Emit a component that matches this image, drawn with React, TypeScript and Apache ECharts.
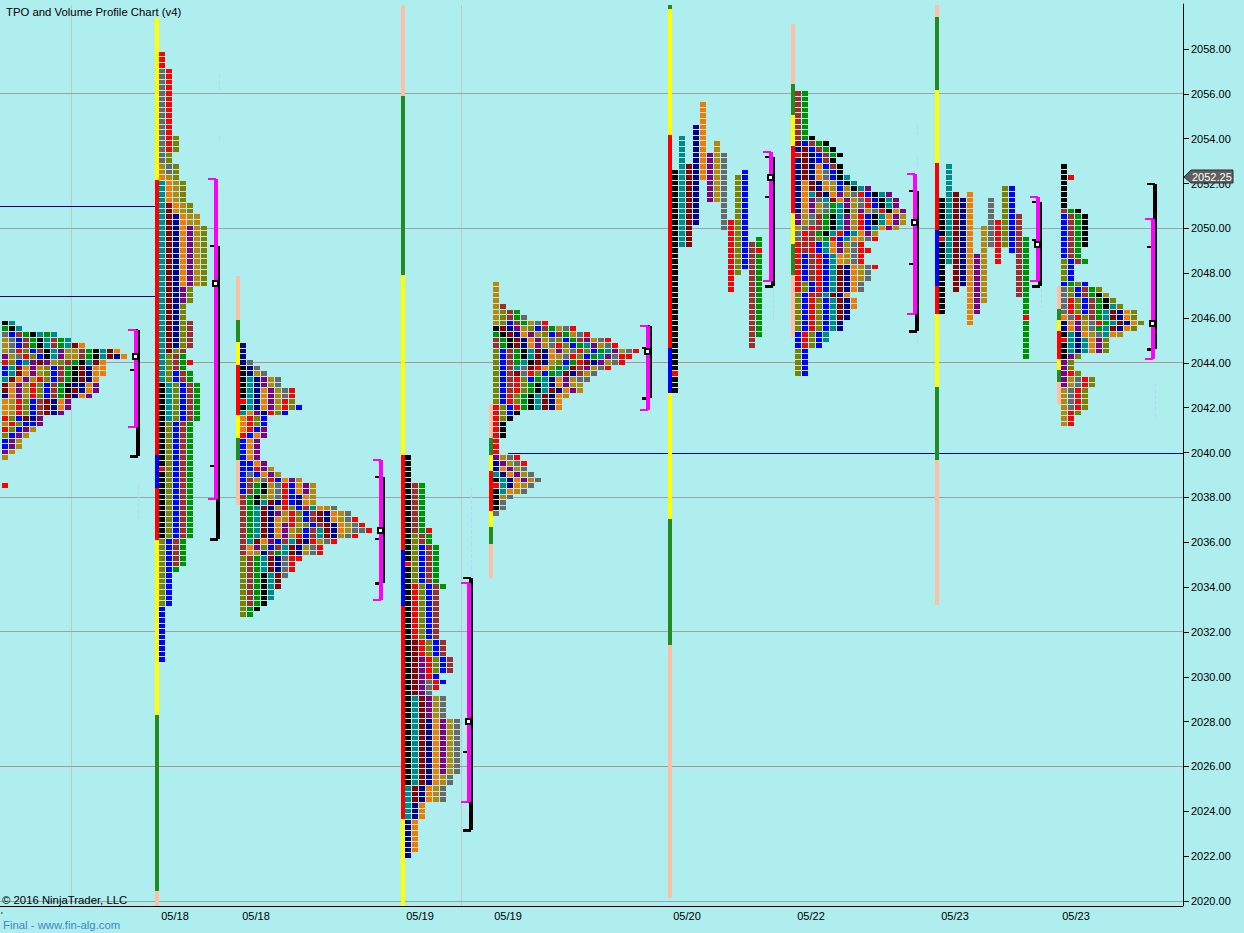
import React, { useEffect, useRef } from "react";
import * as echarts from "echarts";

// ---- axis values
const yTicks = [2020,2022,2024,2026,2028,2030,2032,2034,2036,2038,2040,2042,2044,2046,2048,2050,2052,2054,2056,2058];
const dateValues = [175, 256, 420, 508, 687, 811, 955, 1076];
const dateLabels = ["05/18","05/18","05/19","05/19","05/20","05/22","05/23","05/23"];
const lastPrice = 2052.25;

// ---- horizontal levels [price, from, to]
const gridLevels = [2056, 2050, 2038, 2032, 2020];
const warmLevels = [2044, 2026];
const timeGrid = [71, 461];
const navyLevels = [[2051, 0, 156], [2047, 0, 156], [2040, 508, 1183]];

// ---- range-bar stripes: position, price cuts, colour codes per section
const stripeAt = [155, 236, 401, 489, 668, 791, 935, 1057];
const stripeCuts = [
  [2059.38,2052.16,2039.89,2038.42,2036.10,2028.29,2020.44,2019.78],
  [2047.88,2045.91,2044.93,2043.91,2041.68,2040.65,2039.67,2037.66],
  [2059.96,2055.90,2047.92,2039.89,2035.65,2033.16,2023.66,2019.78],
  [2042.17,2040.65,2039.89,2039.18,2037.39,2036.68,2035.92,2034.41],
  [2059.96,2059.78,2054.16,2044.66,2042.66,2037.04,2031.42,2020.13],
  [2059.12,2056.44,2055.06,2053.67,2050.69,2049.30,2047.92,2045.15],
  [2059.96,2059.43,2056.17,2052.92,2049.93,2047.43,2046.18,2042.92,2039.67,2033.20],
  [2047.43,2046.40,2045.91,2045.42,2044.17,2043.68,2043.15,2042.17],
];
const stripeCodes = ["yrbrygs","sgyrygs","sgyrbry","sgyrygs","gyrbygs","sgyrygs","sgyrbrygs","sgyrygs"];

// ---- value-area brackets: at, magentaTop, magentaBottom, blackTop, blackBottom, poc, midTick
const bracketAt = [134, 214, 379, 467, 646, 769, 913, 1036, 1151];
const magentaTop = [2045.47,2052.20,2039.67,2034.18,2045.64,2053.41,2052.42,2051.40,2050.42];
const magentaBottom = [2041.14,2037.93,2033.42,2024.41,2041.90,2047.65,2046.18,2047.65,2044.17];
const blackTop = [2045.47,2049.21,2038.91,2034.41,2045.64,2053.18,2051.67,2051.18,2051.98];
const blackBottom = [2039.85,2036.14,2034.18,2023.16,2042.43,2047.43,2045.42,2047.43,2044.62];
const pocPrice = [2044.31,2047.56,2036.55,2028.03,2044.53,2052.29,2050.28,2049.30,2045.78];
const midTick = [2043.68,2039.40,2036.14,2026.64,2044.66,2051.40,2048.41,2049.48,2049.17];

// ---- faint marks [at, from, to]
const faintMarks = [[219,2056.88,2056.17],[219,2054.1,2053.8],[138,2038.55,2036.99],[471,2038.42,2034.45],[1155,2043.10,2041.45],[917,2054.6,2054.16],[917,2053.2,2052.6],[917,2045.3,2044.9],[773,2047.4,2045.9],[1041,2047.34,2046.45]];

// ---- TPO profiles, by rows of colour letters
const p1Rows = ["kt","gkt","ybwgktgt","dybwgktwgt","dybwgktwgtmo","dyrlbwktpddwgktmo","pdyrlbktpddwgktmno","rlbtpmpdlwgktmo","btmopdlbwgkmnoo","btmopdlbwgkmnoo","tmopdrlbwgkmno","mopdrlbwgknnop","mopdrlbwgkmnop","nopdrlbwgmnop","odrlbwmnop","odrlbwmnop","odrlbwmnp","rlbmnp","drlbbp","rlbpd","lbpd","bpd","bpd","pd","d","","","","","r"];
const p3Rows = ["n","n","n","ny","kny","kndy","ktnpdy","ktnpdy","ktnopdyr","ktnopdyr","rtnopdrl","ktnopdrlb","topnrlb","orlb","orlb","orbp","rbop","bop","bop","bop","bop","bbop","bbrpd","bybopd","bwdyrbopd","bwgkdyrbopd","bwgkdyrbopd","wgkldyrbnod","wgktmnrbnod","wgtmndrlbwtody","wgtmnpdrlbwmnody","wgtmnodrlbwmnodyr","wgtmnoprdlbwmnodyr","wgtmnopdlbwtmnodyyr","wgtmnopdrbwtmndyr","wtmopbwtmnrdyr","woplbwtmndyr","wodnwgtmndyr","lwgtmnyrr","lwgtmnyr","lwgtmnyr","lwgktmy","lwgktm","lwgktm","lwgkt","lwgkt","lwgk","lgk","lg"];
const p5Rows = ["d","d","d","d","dw","dlwg","dlwgy","dlbwgdyr","kmnpdlbwgdyr","gkmnopdlbwgdyr","wgkmnopdylbgwpdyr","wgkmnopdyrlbgtpdyr","lbwgktmnopdyrlbgtpdyr","lbwgktmnodyrlbgtpyrr","lbwgtkmndlbgrmnpdyr","lbwtymrolgtmwpdyr","lbwmyrlbgtmnwdy","lbwrlbgtnopdyy","lbwrlgktnopdd","lbwrlgktmnopd","lbrlgktmnod","lbrlgktmno","rlbrgktmno","rlbk","rlk","rk","rk","rk","r","r","r","pdyr","npdyr","nopdy","tnopdy","ktnopdy","rtnody","ktody","kdy","ky","ky","y"];
const p7Rows = ["wg","wg","wg","wg","wg","wg","wg","wg","wgk","mbwgk","nmbwgk","rmnbwgk","nmnbwk","nmnobwk","nmnoybk","nmnoybkt","nomnodbkt","nomnodbdktp","notmnopdyrbktp","nopytmopdyrbktp","nopdygtpdyrbktp","nopdygtkdpdyrkop","pdywgktpdrbktopd","pdywgktpdrbktopd","dyrwgktpdrbtopd","yrwgktrbtopd","yrwlgrbtodyr","rwrbtopdyr","rwrbtopdyrr","rbwrbtodyr","rbwrbtodyr","rbwrbtmnodyr","rbwrbtmnody","rbwrbtmnody","rlbrbtmnoy","rlbrbtmnoy","lbrwtmno","lbrlbtmno","lbrlbtmno","lbrlbtmn","lbrlbtmn","lbrlbtn","lbrlbtn","brlbt","brlbt","brlb","lb","lb","lb","lb","lb"];
const p9Rows = ["k","k","kr","k","k","k","k","k","wgk","bwgk","bwgk","bwgk","bwgk","bwgk","bwgk","bwg","bwg","lbwg","lb","lb","lb","bglb","ylbwgl","ylbwgkd","yrlbwgkl","yrlbwgktl","yrlbwgtmnol","oyrlwgtmnol","nopdyrgtmnol","nopdygtmnol","ktnodytod","rtntopl","ktntopl","ktntopl","kpl","pl","pl","prl","pdyrl","pdyrl","dyrl","dyrl","dyrl","dyrl","drl","dr","dr"];

// ---- TPO profiles, by columns of colour runs (letter + first-last row)
const p2Cols = [
  "r0-2 y3-19 d20-21 o22 t23-58 k59-73 r74 k75-86 l87-98 b99-108",
  "r3-17 l18-19 y20-21 d22 o23-26 m27-53 l54-58 t59-65 l66-86 b87-98",
  "l15-17 l20-22 d23-26 o27-28 n29-52 l53 w54-56 b57-58 l59-65 b66-86 w87-91 g92",
  "l23-26 d27-28 o29-41 p42-44 l45-52 w53 g54-56 w57-58 b59-65 w66-86 g87-91",
  "l27-28 d29-30 p31-41 l42-44 w48-52 r55 g57-58 w59-65 g66-86",
  "d29-41 g59-65",
  "l31-41",
];
const p4Cols = [
  "k0-18 r19 k20-58 t59-64 n65-71",
  "w5-13 l14-22 r23-32 m33-42 t43-58 m59-61 n62-64 o65-70",
  "g5-13 w14-15 b16-22 l23-32 r33-35 p36-42 m43-58 n59-61 o62-64",
  "r13 g14-15 w16-22 b23-32 l33-35 r36-39 y40-42 p43-46 n47-58 o59-61",
  "g16-22 w23-32 b33-35 l36-38 b39 r40-41 d43-46 o47-58 d59-61",
  "g23 w33-35 b36-38 b40 y43-46 p47-56 d57-58 y59-61",
  "w36-38 d47-56 y57-58",
  "y47-56",
];
const p6Cols = ["k12-47 r48 k49-51","t6-25","m11-25","n4-21","o0-13","p9-17","d7-17","y9-22","r21-33","l13-30","b12-29","w25-43","g24-25 r26 g27-41"];
const p8Cols = ["k6-12 r13 k14-26","t0-17","m5-22","n6-21","o5-28","p16-26","d11-24","y6-14","r10-17","l4-14","b4-15","w9-23","g13-26 r27 g28-34"];

const rowProfiles: any[] = [
  { at: 2, top: 2045.75, rows: p1Rows },
  { at: 240, top: 2044.75, rows: p3Rows },
  { at: 493, top: 2047.5, rows: p5Rows },
  { at: 795, top: 2056, rows: p7Rows },
  { at: 1061, top: 2052.75, rows: p9Rows },
];
const colProfiles: any[] = [
  { at: 159, top: 2057.75, cols: p2Cols },
  { at: 405, top: 2039.75, cols: p4Cols },
  { at: 672, top: 2055.5, cols: p6Cols },
  { at: 939, top: 2052.75, cols: p8Cols },
];

// ---- styles
const TICK = 0.25;
const PITCH = 7;
const CELL_W = 6;
const palette: Record<string, string> = {
  k: "#000000", t: "#008B8B", m: "#8B0000", n: "#00008B", o: "#F57A00", p: "#800080", d: "#B8860B",
  y: "#696969", r: "#FF0000", l: "#808000", b: "#0000FF", w: "#A52A2A", g: "#009000",
};
const stripePalette: Record<string, string> = { y: "#FFFF00", r: "#FF0000", b: "#0000FF", g: "#228B22", s: "#FFBFA6" };
const BG = "#AFEEEE";
const FONT = '"Liberation Sans", Arial, sans-serif';
const TEXT_FONT = `11.35px ${FONT}`;

type Cell = { x: number; p: number; c: string };
const cells: Cell[] = [];
rowProfiles.forEach((pf) =>
  pf.rows.forEach((row: string, n: number) =>
    row.split("").forEach((c, i) => cells.push({ x: pf.at + PITCH * i, p: pf.top - TICK * n, c }))
  )
);
colProfiles.forEach((pf) =>
  pf.cols.forEach((col: string, i: number) =>
    col.split(" ").forEach((run) => {
      const c = run[0];
      const [a, b] = run.slice(1).split("-").map(Number);
      for (let n = a; n <= (b === undefined ? a : b); n++) cells.push({ x: pf.at + PITCH * i, p: pf.top - TICK * n, c });
    })
  )
);

type Stripe = { x: number; from: number; to: number; fill: string };
const stripes: Stripe[] = [];
stripeAt.forEach((x, s) => {
  stripeCodes[s].split("").forEach((code, i) =>
    stripes.push({ x, from: stripeCuts[s][i], to: stripeCuts[s][i + 1], fill: stripePalette[code] })
  );
});

const rectEl = (x: number, y: number, width: number, height: number, fill: string) => ({
  type: "rect",
  shape: { x, y, width, height },
  style: { fill },
  silent: true,
});

function renderCell(params: any, api: any) {
  const cell = cells[params.dataIndex];
  const [cx, cy] = api.coord([cell.x, cell.p]);
  const top = Math.round(cy - 2.8);
  const bottom = Math.round(cy + 2.8);
  return rectEl(Math.round(cx), top, CELL_W, bottom - top - 1, palette[cell.c]);
}

function renderStripe(params: any, api: any) {
  const st = stripes[params.dataIndex];
  const [x, y0] = api.coord([st.x, st.from]);
  const y1 = api.coord([st.x, st.to])[1];
  return rectEl(Math.round(x), Math.round(y0), 4, Math.round(y1) - Math.round(y0), st.fill);
}

function renderBracket(params: any, api: any) {
  const i = params.dataIndex;
  const x = Math.round(api.coord([bracketAt[i], 2040])[0]);
  const y = (p: number) => Math.round(api.coord([bracketAt[i], p])[1]);
  const bt = y(blackTop[i]), bb = y(blackBottom[i]), mt = y(magentaTop[i]), mb = y(magentaBottom[i]);
  const poc = y(pocPrice[i]), tick = y(midTick[i]);
  return {
    type: "group",
    children: [
      rectEl(x + 2, bt, 4, bb - bt, "#000000"),
      rectEl(x - 4, bt - 1, 8, 2, "#000000"),
      rectEl(x - 4, bb - 1, 8, 3, "#000000"),
      rectEl(x - 4, tick - 1, 6, 2, "#000000"),
      rectEl(x, mt, 4, mb - mt, "#FF00FF"),
      rectEl(x - 6, mt - 1, 8, 2, "#FF00FF"),
      rectEl(x - 6, mb - 1, 8, 2, "#FF00FF"),
      rectEl(x - 2, poc - 3, 7, 7, "#000000"),
      rectEl(x, poc - 1, 3, 3, "#FFFFFF"),
    ],
  };
}

const hLevels = [
  ...gridLevels.map((p) => ({ p, a: 0, b: 1183, color: "#93A9A9", snap: Math.floor })),
  ...warmLevels.map((p) => ({ p, a: 0, b: 1183, color: "#B59292", snap: Math.floor })),
  ...navyLevels.map(([p, a, b]) => ({ p, a, b, color: "#00008B", snap: Math.round })),
];

function renderLevel(params: any, api: any) {
  const l = hLevels[params.dataIndex];
  const [x0, y0] = api.coord([l.a, l.p]);
  const x1 = api.coord([l.b, l.p])[0];
  const y = l.snap(y0) + 0.5;
  return { type: "line", shape: { x1: x0, y1: y, x2: x1, y2: y }, style: { stroke: l.color, lineWidth: 1 }, silent: true };
}

function renderTimeGrid(params: any, api: any) {
  const t = timeGrid[params.dataIndex];
  const [x0, y0] = api.coord([t, 2059.96]);
  const y1 = api.coord([t, 2019.78])[1];
  const x = Math.round(x0) + 0.5;
  return { type: "line", shape: { x1: x, y1: y0, x2: x, y2: y1 }, style: { stroke: "#BCC8CA", lineWidth: 1 }, silent: true };
}

function renderFaint(params: any, api: any) {
  const [at, a, b] = faintMarks[params.dataIndex];
  const [x0, y0] = api.coord([at, a]);
  const y1 = api.coord([at, b])[1];
  const x = Math.round(x0) + 0.5;
  return { type: "line", shape: { x1: x, y1: y0, x2: x, y2: y1 }, style: { stroke: "#BFD3F5", lineWidth: 1, lineDash: [4, 2] }, silent: true };
}

function renderTag(_params: any, api: any) {
  const [x, yc] = api.coord([1183, lastPrice]);
  const y = Math.round(yc) - 1;
  return {
    type: "group",
    children: [
      {
        type: "polygon",
        shape: { points: [[x + 1, y], [x + 8, y - 7], [x + 50, y - 7], [x + 50, y + 6], [x + 8, y + 6]] },
        style: { fill: "#5F5F5F", stroke: "#2E2E2E", lineWidth: 1 },
        silent: true,
      },
      {
        type: "text",
        style: { text: lastPrice.toFixed(2), x: x + 9, y: y - 6, fill: "#FFFFFF", font: `11px ${FONT}` },
        silent: true,
      },
    ],
  };
}

function renderAxisExt(_params: any, api: any) {
  const [x, y0] = api.coord([1183, 2020]);
  return { type: "line", shape: { x1: Math.round(x) + 0.5, y1: y0, x2: Math.round(x) + 0.5, y2: y0 + 5 }, style: { stroke: "#000", lineWidth: 1 }, silent: true };
}

const custom = (name: string, data: number[][], renderItem: any, z: number) => ({
  type: "custom",
  name,
  data,
  renderItem,
  z,
  clip: false,
  silent: true,
  progressive: 0,
  animation: false,
});

export default function App() {
  const ref = useRef<HTMLDivElement>(null);
  useEffect(() => {
    document.body.style.margin = "0";
    const chart = echarts.init(ref.current!, null, { renderer: "svg" });
    chart.setOption({
      animation: false,
      backgroundColor: BG,
      tooltip: { show: false },
      grid: { left: 0, top: 4.16, width: 1183, height: 896.84, containLabel: false },
      xAxis: {
        type: "value",
        min: 0,
        max: 1183,
        position: "bottom",
        offset: 5,
        splitLine: { show: false },
        axisLine: { show: true, onZero: false, lineStyle: { color: "#000", width: 1 } },
        axisTick: { show: false },
        axisLabel: {
          customValues: dateValues,
          formatter: (v: number) => dateLabels[dateValues.indexOf(v)] ?? "",
          color: "#000",
          fontFamily: "Liberation Sans",
          fontSize: 11,
          margin: 4,
          hideOverlap: false,
        },
      },
      yAxis: {
        type: "value",
        min: 2020,
        max: 2060,
        position: "right",
        splitLine: { show: false },
        axisLine: { show: true, onZero: false, lineStyle: { color: "#000", width: 1 } },
        axisTick: { show: true, length: 6, customValues: yTicks, lineStyle: { color: "#000" } },
        axisLabel: {
          customValues: yTicks,
          formatter: (v: number) => v.toFixed(2),
          color: "#000",
          fontFamily: "Liberation Sans",
          fontSize: 11,
          margin: 8,
        },
      },
      graphic: [
        { type: "text", silent: true, z: 20, style: { text: "TPO and Volume Profile Chart (v4)", x: 6, y: 6, fill: "#000", font: TEXT_FONT } },
        { type: "text", silent: true, z: 20, style: { text: "\u00A9 2016 NinjaTrader, LLC", x: 2, y: 894, fill: "#000", font: TEXT_FONT } },
        { type: "text", silent: true, z: 20, style: { text: "Final - www.fin-alg.com", x: 3, y: 919, fill: "#3F86C6", font: TEXT_FONT } },
        { type: "text", silent: true, z: 20, style: { text: "'", x: 1, y: 910, fill: "#000", font: `9px ${FONT}` } },
      ],
      series: [
        custom("time grid", timeGrid.map((t) => [t, 2040]), renderTimeGrid, 1),
        custom("levels", hLevels.map((l) => [l.a, l.p]), renderLevel, 2),
        custom("faint", faintMarks.map((f) => [f[0], f[1]]), renderFaint, 3),
        custom("stripes", stripes.map((s) => [s.x, s.from]), renderStripe, 4),
        custom("tpo", cells.map((c) => [c.x, c.p]), renderCell, 5),
        custom("brackets", bracketAt.map((x, i) => [x, pocPrice[i]]), renderBracket, 6),
        custom("axis end", [[1183, 2020]], renderAxisExt, 7),
        custom("last", [[1183, lastPrice]], renderTag, 8),
      ],
    });
    return () => chart.dispose();
  }, []);
  return <div ref={ref} style={{ width: 1244, height: 933 }} />;
}
